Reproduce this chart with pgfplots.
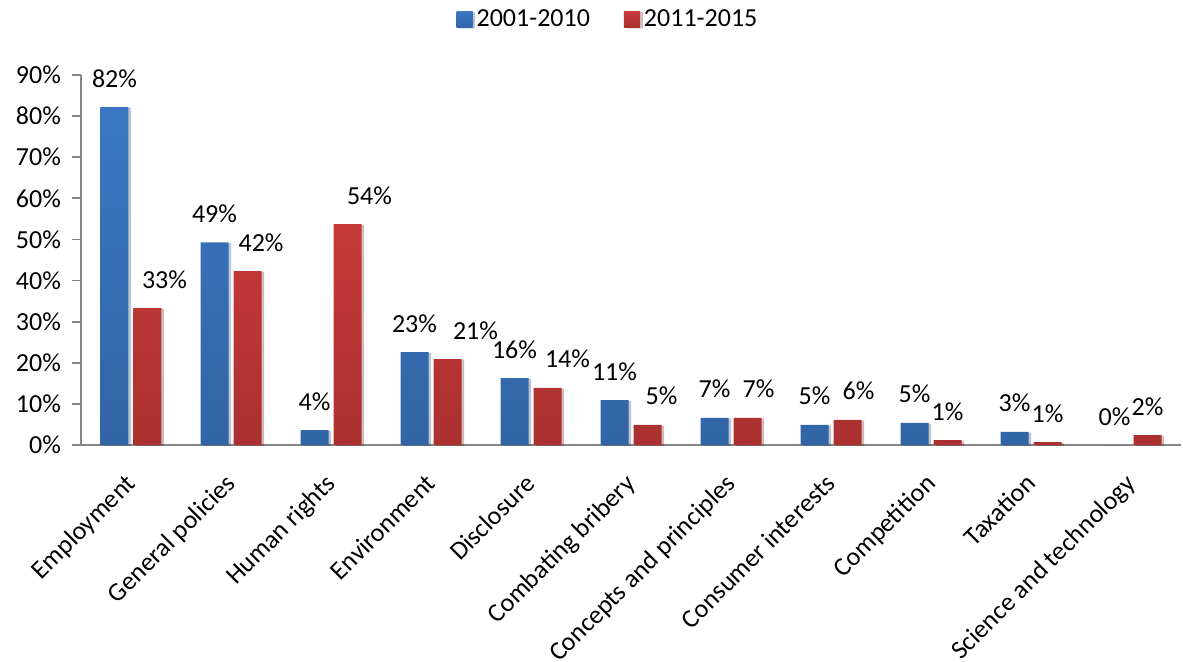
\documentclass[border=0pt]{standalone}
\usepackage{pgfplots}
\pgfplotsset{compat=1.18}
\usepackage{pgfplotstable}
\usepackage{fontspec}
\setmainfont{Carlito}
\usetikzlibrary{shadows}

\definecolor{bluetop}{RGB}{60,128,208}
\definecolor{bluebot}{RGB}{47,92,152}
\definecolor{redtop}{RGB}{212,62,60}
\definecolor{redbot}{RGB}{156,44,44}
\definecolor{axisgray}{RGB}{134,134,134}

% linear top-to-bottom fills for the bars
\pgfdeclareverticalshading{bluebar}{100bp}{color(0bp)=(bluebot); color(100bp)=(bluetop)}
\pgfdeclareverticalshading{redbar}{100bp}{color(0bp)=(redbot); color(100bp)=(redtop)}

% share of cases by chapter, in percent; dx nudges the 2011-2015 value labels
\pgfplotstableread{
x  early late dx
0  82.2  33.3 8.5
1  49.3  42.3 6.8
2  3.6   53.7 11
3  22.6  20.9 14
4  16.3  13.9 10
5  10.9  4.9  7
6  6.6   6.6  5.5
7  4.9   6.1  5.5
8  5.4   1.2  0
9  3.2   0.7  0
10 0     2.4  0
}\cases

\newcommand\lblfont{\fontsize{13}{15}\selectfont}

\begin{document}
\begin{tikzpicture}
\useasboundingbox (-40.5pt,-108pt) rectangle (551pt,222.5pt);
\begin{axis}[
  at={(0,0)}, anchor=south west,
  scale only axis, width=550pt, height=185pt,
  ybar=2.5pt, bar width=14pt,
  xmin=-0.5, xmax=10.5, ymin=0, ymax=90,
  axis x line*=bottom, axis y line*=left,
  axis line style={axisgray, line width=0.9pt},
  ytick={0,10,...,90},
  yticklabels={0\%,10\%,20\%,30\%,40\%,50\%,60\%,70\%,80\%,90\%},
  ytick align=outside, major tick length=4.5pt,
  ytick style={axisgray, line width=0.9pt},
  xtick={0,...,10},
  xticklabels={Employment,General policies,Human rights,Environment,Disclosure,Combating bribery,Concepts and principles,Consumer interests,Competition,Taxation,Science and technology},
  xtick style={draw=none},
  tick label style={font=\lblfont, black},
  yticklabel style={xshift=-2pt},
  xticklabel style={xshift=-3.5pt, yshift=-9pt, rotate=45, anchor=north east, inner sep=0pt},
  /pgf/number format/assume math mode=true,
  nodes near coords={\pgfmathprintnumber[fixed,precision=0]{\pgfplotspointmeta}\%},
  every node near coord/.append style={font=\lblfont, black, anchor=base, yshift=10pt},
  legend style={at={(axis description cs:0.48,1.1486)}, anchor=center,
    draw=none, fill=none, font=\lblfont, legend columns=-1,
    /tikz/every even column/.append style={column sep=15pt}},
  legend image code/.code={\path[#1, draw=none] (0pt,-3.75pt) rectangle (8pt,4.25pt);},
  bar shadow/.style={drop shadow={shadow xshift=1.3pt, shadow yshift=-0.4pt, opacity=0.16, fill=black}},
]
\addplot[draw=none, shading=bluebar, bar shadow]
  table[x=x, y=early] {\cases};
\addplot[draw=none, shading=redbar, bar shadow,
  visualization depends on={\thisrow{dx} \as \labeldx},
  every node near coord/.append style={xshift=\labeldx pt}]
  table[x=x, y=late] {\cases};
\legend{2001-2010, 2011-2015}
\end{axis}
\end{tikzpicture}
\end{document}
